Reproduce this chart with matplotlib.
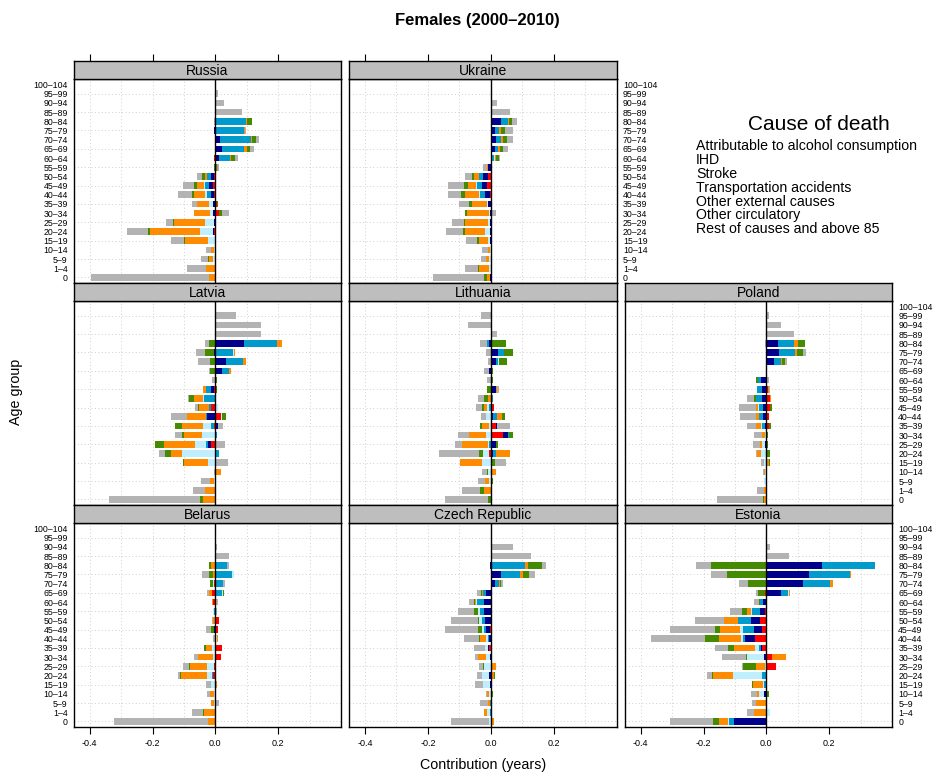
import matplotlib
matplotlib.use("Agg")
import matplotlib.pyplot as plt
import numpy as np

plt.rcParams['font.family'] = ['Liberation Sans', 'DejaVu Sans']

# Age groups, youngest first
ages = ["0", "1–4", "5–9", "10–14", "15–19", "20–24", "25–29", "30–34", "35–39",
        "40–44", "45–49", "50–54", "55–59", "60–64", "65–69", "70–74", "75–79",
        "80–84", "85–89", "90–94", "95–99", "100–104"]

causes = ["Attributable to alcohol consumption", "IHD", "Stroke",
          "Transportation accidents", "Other external causes",
          "Other circulatory", "Rest of causes and above 85"]
cause_colors = ["#FF0000", "#00008B", "#009ACD", "#BFEFFF", "#FF8C00",
                "#458B00", "#B3B3B3"]

# Contributions (years) per age group; columns follow `causes`
russia = [
    [0, 0, 0, 0, -0.020, 0, -0.376],
    [0, 0, 0, 0, -0.030, 0, -0.061],
    [0, 0, 0, -0.007, -0.013, -0.003, -0.022],
    [0, 0, 0, -0.004, -0.010, 0, -0.016],
    [0, 0, 0, -0.023, -0.073, -0.003, -0.041],
    [-0.004, -0.003, 0, -0.041, -0.159, -0.006, -0.067],
    [0, -0.004, 0, -0.029, -0.098, -0.004, -0.022],
    [0.013, -0.008, 0, -0.008, -0.051, 0.008, 0.022],
    [0.004, -0.008, 0, -0.012, -0.038, 0.003, -0.016],
    [-0.004, -0.010, -0.011, -0.008, -0.036, -0.006, -0.044],
    [-0.006, -0.013, -0.015, -0.002, -0.021, -0.011, -0.035],
    [-0.004, -0.010, -0.011, -0.002, -0.007, -0.008, -0.016],
    [0, 0, 0.006, 0, 0.004, -0.004, 0.003],
    [-0.005, 0.012, 0.036, 0, 0.003, 0.011, 0.010],
    [0, 0.021, 0.070, 0, 0.010, 0.010, 0.012],
    [0, 0.015, 0.099, 0, 0.003, 0.013, 0.010],
    [0, -0.004, 0.090, 0, 0.004, 0, 0.005],
    [0, 0, 0.098, 0, 0.003, 0.016, -0.004],
    [0, 0, 0, 0, 0, 0, 0.085],
    [0, 0, 0, 0, 0, 0, 0.028],
    [0, 0, 0, 0, 0, 0, 0.008],
    [0, 0, 0, 0, 0, 0, 0.001],
]

ukraine = [
    [0, -0.002, 0, 0, -0.010, -0.010, -0.162],
    [0, 0, 0, -0.005, -0.032, -0.003, -0.041],
    [0, 0, 0, -0.006, -0.010, 0.003, -0.016],
    [0, 0, 0, -0.003, -0.005, 0, -0.019],
    [0, -0.003, 0, -0.005, -0.029, -0.006, -0.035],
    [0, -0.002, 0, -0.016, -0.064, -0.006, -0.054],
    [0, -0.003, 0, -0.006, -0.073, -0.002, -0.041],
    [0.005, -0.003, 0, -0.003, -0.069, -0.006, 0.010],
    [0, -0.008, 0, -0.005, -0.046, -0.010, -0.032],
    [-0.002, -0.016, -0.016, -0.003, -0.045, -0.013, -0.041],
    [-0.012, -0.016, -0.016, -0.002, -0.027, -0.013, -0.051],
    [-0.008, -0.016, -0.013, 0, -0.016, -0.006, -0.022],
    [0, -0.008, 0, 0, -0.003, 0, -0.013],
    [0, 0.004, 0.006, 0.003, 0.003, 0.010, 0.003],
    [0, 0.014, 0.010, 0, 0.006, 0.010, 0.013],
    [0.003, 0.014, 0.016, 0, 0.006, 0.013, 0.019],
    [0, 0.014, 0.013, 0, 0.004, 0.015, 0.025],
    [0.003, 0.030, 0.023, 0, 0.002, 0.010, 0.016],
    [0, 0, 0, 0, 0, 0, 0.062],
    [0, 0, 0, 0, 0, 0, 0.020],
    [0, 0, 0, 0, 0, 0, 0],
    [0, 0, 0, 0, 0, 0, 0],
]

latvia = [
    [0, 0, 0, 0, -0.039, -0.010, -0.290],
    [0, 0, 0, 0, -0.033, 0, -0.038],
    [0, 0, 0, -0.005, -0.013, 0, -0.029],
    [0, 0, 0, 0, 0.018, 0, -0.004],
    [0, 0, 0, -0.023, -0.076, -0.003, 0.040],
    [0, 0, 0.012, -0.106, -0.035, -0.019, -0.019],
    [-0.014, -0.010, -0.006, -0.035, -0.099, -0.029, 0.031],
    [0, 0, 0.005, -0.042, -0.057, -0.006, -0.022],
    [-0.005, 0.008, -0.008, -0.025, -0.067, -0.022, 0.016],
    [0.018, -0.027, -0.003, 0.003, -0.060, 0.014, -0.051],
    [-0.014, 0, -0.006, 0.007, -0.032, -0.003, -0.010],
    [0, 0, -0.036, -0.003, -0.029, -0.016, -0.003],
    [-0.004, -0.010, -0.016, 0, -0.010, 0.005, 0],
    [0, 0, 0, 0, 0, 0.005, -0.011],
    [0, 0.021, 0.022, 0, 0.006, -0.017, -0.003],
    [0, 0.034, 0.054, 0, 0.010, -0.017, -0.038],
    [0, -0.004, 0.056, 0.002, 0.006, -0.029, -0.029],
    [0, 0.090, 0.106, 0, 0.015, -0.020, -0.013],
    [0, 0, 0, 0, 0, 0, 0.144],
    [0, 0, 0, 0, 0, 0, 0.144],
    [0, 0, 0, 0, 0, 0, 0.065],
    [0, 0, 0, 0, 0, 0, 0.003],
]

lithuania = [
    [0.003, 0, 0, 0, 0, -0.010, -0.137],
    [0, 0, 0, 0, -0.023, -0.010, -0.060],
    [0, 0, 0, -0.006, -0.013, 0.006, -0.022],
    [0, 0, 0, -0.010, 0.017, -0.003, -0.016],
    [0, 0, 0, -0.029, -0.070, 0.014, 0.035],
    [-0.005, 0.006, 0.011, -0.019, 0.045, -0.013, -0.127],
    [0, 0.017, -0.005, -0.003, -0.083, 0.006, -0.022],
    [0.040, 0.016, 0.003, -0.015, -0.054, 0.010, -0.035],
    [0.017, 0.003, 0, -0.005, -0.022, -0.006, 0.041],
    [0, 0.007, 0.013, -0.016, 0.016, 0.010, -0.016],
    [0.011, 0, -0.006, -0.007, -0.008, -0.006, -0.019],
    [0, 0, 0.006, 0, -0.010, -0.013, -0.019],
    [0, 0.017, 0, 0, 0.003, -0.012, 0.006],
    [0.003, 0, 0, 0, 0, 0.004, -0.012],
    [0, -0.005, 0.004, 0, 0, 0.004, -0.016],
    [0, 0.017, 0.006, 0.003, 0, 0.025, -0.008],
    [0, 0.023, 0.019, 0, 0, 0.029, -0.015],
    [0, -0.005, -0.006, 0, 0, 0.048, -0.025],
    [0, 0, 0, 0, 0, 0, 0.020],
    [0, 0, 0, 0, 0, 0, -0.072],
    [0, 0, 0, 0, 0, 0, -0.031],
    [0, 0, 0, 0, 0, 0, 0],
]

poland = [
    [0, 0, 0, 0, -0.007, -0.003, -0.147],
    [0, 0, 0, 0, -0.007, 0, -0.022],
    [0, 0, 0, -0.006, 0, -0.003, 0],
    [0, 0, 0, -0.003, -0.004, 0, -0.003],
    [0.002, 0, 0, -0.007, 0.005, 0.004, -0.010],
    [0, 0, 0, -0.017, -0.013, 0.012, -0.003],
    [0, -0.004, 0, -0.010, -0.006, 0.004, -0.022],
    [0, 0, 0, -0.004, -0.010, 0.004, -0.025],
    [0.008, -0.004, -0.010, -0.003, -0.016, 0.006, -0.029],
    [0.008, -0.011, -0.013, 0, -0.010, 0, -0.051],
    [0.012, -0.011, -0.013, -0.003, -0.006, 0.006, -0.054],
    [0.012, -0.014, -0.019, 0, 0.003, -0.006, -0.022],
    [0.004, -0.014, -0.016, 0, 0.004, 0, 0.003],
    [0.002, -0.017, -0.010, 0, 0, -0.006, 0.005],
    [0, 0, 0, 0, 0, 0, 0],
    [0, 0.024, 0.022, 0, 0.003, 0.010, 0.006],
    [0, 0.040, 0.051, 0, 0.005, 0.020, 0.010],
    [0, 0.037, 0.051, 0, 0.013, 0.022, -0.004],
    [0, 0, 0, 0, 0, 0, 0.088],
    [0, 0, 0, 0, 0, 0, 0.047],
    [0, 0, 0, 0, 0, 0, 0.007],
    [0, 0, 0, 0, 0, 0, 0],
]

belarus = [
    [0, 0, 0, 0, -0.023, 0, -0.300],
    [0, 0, 0, 0, -0.036, -0.003, -0.035],
    [0, 0, 0, -0.005, -0.010, 0, 0.012],
    [0, 0, 0, -0.004, -0.013, 0, -0.010],
    [0, 0, 0, -0.014, 0.004, 0, -0.016],
    [-0.007, 0, -0.003, -0.016, -0.084, -0.003, -0.005],
    [-0.004, 0, 0, -0.022, -0.055, -0.002, -0.019],
    [0.018, 0, 0, -0.006, -0.048, 0, -0.013],
    [0.021, 0, 0, -0.011, -0.019, -0.006, 0],
    [0, 0, 0, 0.004, 0.004, 0, -0.007],
    [0.008, -0.004, 0, 0, 0, -0.010, -0.016],
    [0.012, 0, 0, 0, -0.006, 0, -0.006],
    [0, 0, -0.004, -0.002, 0, -0.003, 0.004],
    [-0.007, 0, 0, 0, -0.004, 0, 0.008],
    [-0.011, 0, 0.021, 0.003, -0.010, 0.003, -0.006],
    [-0.004, 0, 0.024, -0.004, 0, -0.010, 0.006],
    [0, 0, 0.053, 0.006, -0.007, -0.013, -0.022],
    [0, 0, 0.037, 0, -0.014, -0.006, 0.006],
    [0, 0, 0, 0, 0, 0, 0.044],
    [0, 0, 0, 0, 0, 0, 0.004],
    [0, 0, 0, 0, 0, 0, 0],
    [0, 0, 0, 0, 0, 0, 0],
]

czech = [
    [0, 0, 0, -0.005, 0.011, 0, -0.121],
    [0, 0, -0.002, -0.010, -0.010, 0, 0],
    [0, 0, -0.002, 0, -0.006, 0, -0.025],
    [0, 0, 0, -0.005, -0.006, 0.006, -0.006],
    [0, -0.002, 0, -0.022, 0, 0, -0.025],
    [0.004, -0.005, 0, -0.022, 0.006, 0.003, -0.016],
    [0.003, 0, 0, -0.021, 0.014, -0.003, -0.013],
    [0, -0.003, 0, -0.012, -0.025, 0, -0.010],
    [-0.005, -0.003, 0, -0.010, 0, 0, -0.035],
    [0, -0.005, -0.003, -0.006, -0.022, -0.003, -0.045],
    [-0.002, -0.013, -0.006, -0.006, 0, -0.013, -0.105],
    [0, -0.018, -0.010, -0.010, 0, -0.003, -0.086],
    [0, -0.021, -0.013, -0.006, 0, -0.013, -0.051],
    [0, -0.021, -0.022, -0.003, -0.003, -0.006, -0.016],
    [0.002, -0.015, -0.010, 0, -0.003, -0.003, -0.013],
    [0, 0.014, 0.013, 0, 0.003, 0.003, 0.006],
    [0, 0.033, 0.060, 0, 0.010, 0.019, 0.019],
    [0, -0.003, 0.110, 0, 0.008, 0.045, 0.013],
    [0, 0, 0, 0, 0, 0, 0.128],
    [0, 0, 0, 0, 0, 0, 0.071],
    [0, 0, 0, 0, 0, 0, 0],
    [0, 0, 0, 0, 0, 0, 0],
]

estonia = [
    [0, -0.103, -0.016, -0.003, -0.029, -0.019, -0.137],
    [0, 0, 0, 0.012, -0.039, 0, -0.022],
    [0, 0, 0, 0, -0.033, 0, -0.013],
    [0, -0.007, 0, -0.016, -0.006, 0.008, -0.019],
    [0, 0, -0.007, -0.003, -0.032, -0.003, 0],
    [0, 0, -0.014, -0.092, -0.064, -0.003, -0.016],
    [0.031, 0, 0, -0.003, -0.029, -0.041, -0.003],
    [0.018, -0.007, 0, -0.054, 0.045, -0.003, -0.076],
    [-0.014, -0.003, -0.006, -0.013, -0.067, -0.019, -0.041],
    [-0.036, -0.032, -0.006, -0.006, -0.070, -0.045, -0.172],
    [-0.014, -0.025, -0.035, -0.010, -0.064, -0.016, -0.143],
    [-0.020, -0.029, -0.041, 0, -0.045, 0, -0.092],
    [-0.003, -0.017, -0.025, -0.003, -0.013, -0.016, -0.038],
    [0, -0.011, -0.010, 0, 0, -0.003, -0.016],
    [-0.003, 0.047, 0.022, 0.002, 0.003, -0.023, -0.006],
    [0, 0.117, 0.085, 0, 0.010, -0.058, -0.029],
    [0, 0.136, 0.131, 0, 0.003, -0.125, -0.051],
    [0, 0.177, 0.169, 0, 0, -0.176, -0.048],
    [0, 0, 0, 0, 0, 0, 0.072],
    [0, 0, 0, 0, 0, 0, 0.012],
    [0, 0, 0, 0, 0, 0, 0],
    [0, 0, 0, 0, 0, 0, 0],
]

# (name, data, row, col) in the 3x3 layout
panels = [
    ("Russia", russia, 0, 0),
    ("Ukraine", ukraine, 0, 1),
    ("Latvia", latvia, 1, 0),
    ("Lithuania", lithuania, 1, 1),
    ("Poland", poland, 1, 2),
    ("Belarus", belarus, 2, 0),
    ("Czech Republic", czech, 2, 1),
    ("Estonia", estonia, 2, 2),
]

W, H = 934, 774
fig = plt.figure(figsize=(W / 100, H / 100), dpi=100)


def rect(x0, y0, x1, y1):
    return [x0 / W, 1 - y1 / H, (x1 - x0) / W, (y1 - y0) / H]


col_x = [(74, 341), (349.3, 616.7), (625, 892)]
row_y = [(61, 79, 283), (283, 301, 505), (505, 523, 727)]
XLIM = (-0.45, 0.40)
YLIM = (-0.6, 21.6)
xticks = [-0.4, -0.2, 0.0, 0.2]
ypos = np.arange(len(ages))

for name, data, r, c in panels:
    x0, x1 = col_x[c]
    ys, yd, yb = row_y[r]
    vals = np.array(data, dtype=float)

    ax = fig.add_axes(rect(x0, yd, x1, yb))
    ax.set_xlim(*XLIM)
    ax.set_ylim(*YLIM)

    # dotted reference grid
    for gx in np.arange(-0.4, 0.35, 0.1):
        ax.axvline(gx, color="#cfcfcf", lw=0.7, ls=(0, (1, 2.5)), zorder=0)
    for gy in range(0, 21, 2):
        ax.axhline(gy, color="#cfcfcf", lw=0.7, ls=(0, (1, 2.5)), zorder=0)

    pos_base = np.zeros(len(ages))
    neg_base = np.zeros(len(ages))
    for k, col in enumerate(cause_colors):
        v = vals[:, k]
        pos = np.where(v > 0, v, 0)
        neg = np.where(v < 0, v, 0)
        ax.barh(ypos, pos, left=pos_base, height=0.72, color=col,
                edgecolor="none", zorder=2)
        ax.barh(ypos, neg, left=neg_base, height=0.72, color=col,
                edgecolor="none", zorder=2)
        pos_base += pos
        neg_base += neg

    ax.axvline(0, color="black", lw=1.0, zorder=3)
    for sp in ax.spines.values():
        sp.set_linewidth(1.0)

    ax.set_yticks(ypos)
    ax.set_yticklabels(ages)
    left_lab = (c == 0 and r in (0, 2))
    right_lab = (r == 0 and c == 1) or (r in (1, 2) and c == 2)
    ax.tick_params(axis="y", length=0, labelsize=6.3, pad=4.5,
                   labelleft=left_lab, labelright=right_lab)

    if r == 2:
        ax.set_xticks(xticks)
        ax.set_xticklabels([f"{t:.1f}" for t in xticks])
        ax.tick_params(axis="x", direction="out", length=5, width=0.8,
                       labelsize=6.5, pad=4)
    else:
        ax.set_xticks([])

    # strip with the country name
    sax = fig.add_axes(rect(x0, ys, x1, yd))
    sax.set_facecolor("#BEBEBE")
    sax.set_xlim(*XLIM)
    sax.set_yticks([])
    for sp in sax.spines.values():
        sp.set_linewidth(1.0)
    if r == 0:
        sax.set_xticks(xticks)
        sax.tick_params(axis="x", top=True, bottom=False, labeltop=False,
                        labelbottom=False, direction="out", length=5, width=0.8)
    else:
        sax.set_xticks([])
    sax.text(0.5, 0.45, name, transform=sax.transAxes, ha="center",
             va="center", fontsize=10)

# legend block
fig.text(819 / W, 1 - 124 / H, "Cause of death", ha="center", va="center",
         fontsize=15)
for i, lab in enumerate(causes):
    fig.text(696 / W, 1 - (146 + 13.9 * i) / H, lab, ha="left", va="center",
             fontsize=10.2)

fig.text(477 / W, 1 - 20 / H, "Females (2000–2010)", ha="center", va="center",
         fontsize=12, fontweight="bold")
fig.text(483 / W, 1 - 765 / H, "Contribution (years)", ha="center",
         va="center", fontsize=10.3)
fig.text(16 / W, 1 - 392 / H, "Age group", ha="center", va="center",
         rotation=90, fontsize=10.3)

fig.savefig("out.png", dpi=100)
